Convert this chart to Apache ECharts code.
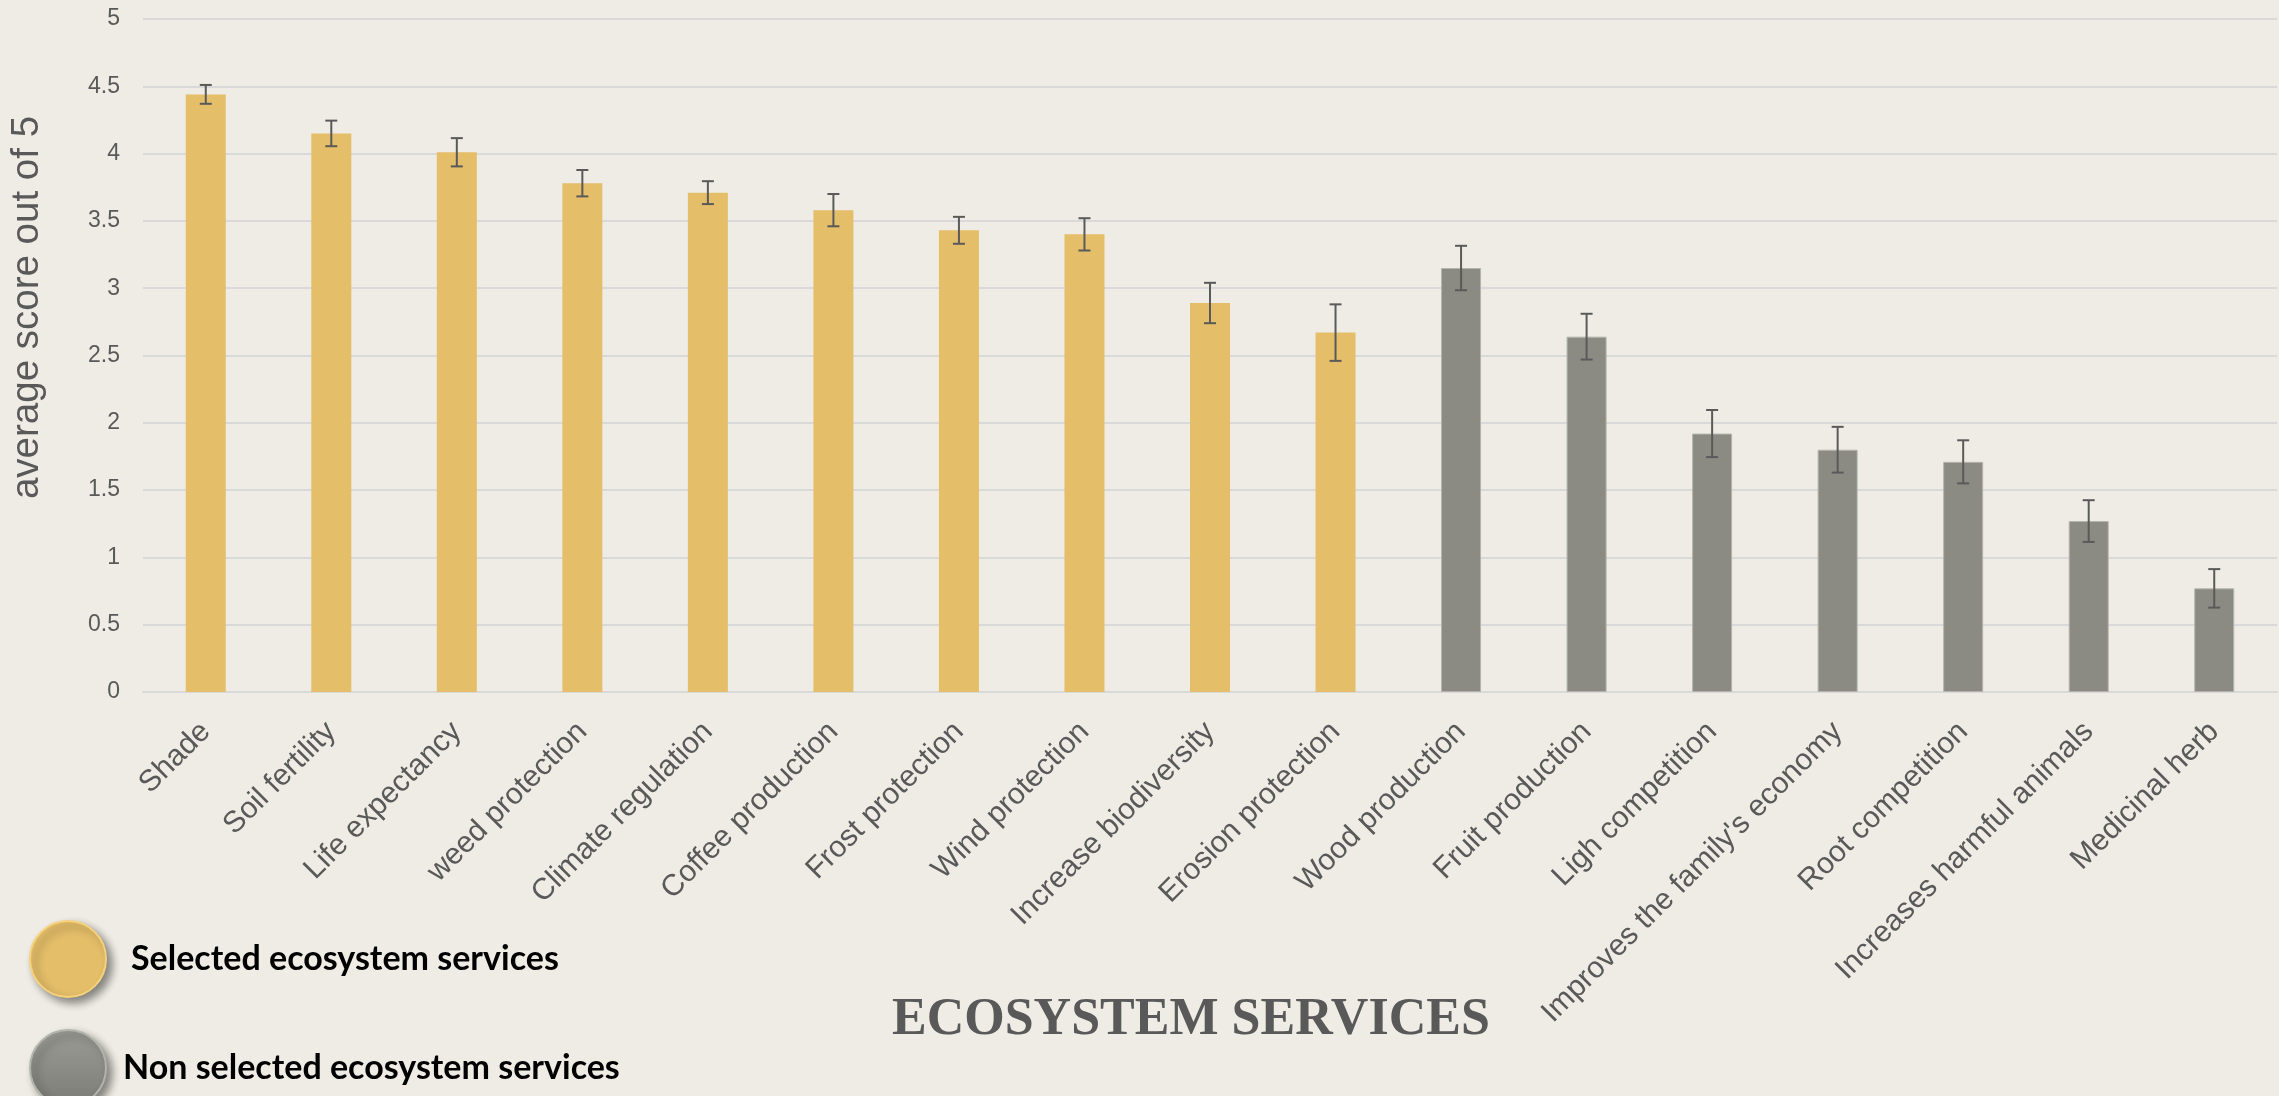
<!DOCTYPE html>
<html><head><meta charset="utf-8">
<script src="https://cdn.jsdelivr.net/npm/echarts@6/dist/echarts.min.js"></script>
<style>html,body{margin:0;padding:0;background:#EEECE4;} #c{width:2279px;height:1096px;}</style>
</head><body><div id="c"></div>
<script>
const categories = ['Shade','Soil fertility','Life expectancy','weed protection','Climate regulation','Coffee production','Frost protection','Wind protection','Increase biodiversity','Erosion protection','Wood production','Fruit production','Ligh competition',"Improves the family's economy",'Root competition','Increases harmful animals','Medicinal herb'];
const scores = [4.44, 4.15, 4.01, 3.78, 3.71, 3.58, 3.43, 3.40, 2.89, 2.67, 3.15, 2.64, 1.92, 1.80, 1.71, 1.27, 0.77];
const errors = [0.07, 0.095, 0.105, 0.098, 0.085, 0.12, 0.10, 0.12, 0.15, 0.21, 0.165, 0.17, 0.175, 0.17, 0.16, 0.155, 0.143];
const isSelected = [true, true, true, true, true, true, true, true, true, true, false, false, false, false, false, false, false];
const groupNames = ['Selected ecosystem services', 'Non selected ecosystem services'];
const yAxisTitle = 'average score out of 5';
const xAxisTitle = 'ECOSYSTEM SERVICES';

const chart = echarts.init(document.getElementById('c'));
const selData = scores.map((v, i) => isSelected[i] ? v : '-');
const nonData = scores.map((v, i) => isSelected[i] ? '-' : v);
const errData = scores.map((v, i) => [i, v - errors[i], v + errors[i]]);

const legendFont = { fontFamily: 'Lato, Liberation Sans', fontWeight: 'bold', fontSize: 34, color: '#000' };

chart.setOption({
  backgroundColor: '#EEECE4',
  animation: false,
  title: {
    text: xAxisTitle, left: 887, top: 990,
    textStyle: { fontFamily: 'Liberation Serif', fontWeight: 'bold', fontSize: 52, color: '#595959' }
  },
  legend: {
    orient: 'vertical', left: 24, top: 915, height: 300, itemWidth: 76, itemHeight: 76, itemGap: 31,
    icon: 'circle', selectedMode: false,
    textStyle: Object.assign({ padding: [0, 0, 0, 20] }, legendFont),
    data: [
      { name: groupNames[0], itemStyle: { color: '#E4BE69', borderColor: '#F6D27C', borderWidth: 2, shadowBlur: 8, shadowColor: 'rgba(0,0,0,0.45)', shadowOffsetX: 5, shadowOffsetY: 5 } },
      { name: groupNames[1], textStyle: Object.assign({ padding: [0, 0, 0, 12] }, legendFont), itemStyle: { color: { type: 'linear', x: 0, y: 0, x2: 0, y2: 1, colorStops: [{ offset: 0, color: '#9C9C96' }, { offset: 1, color: '#7C7C76' }] }, shadowBlur: 8, shadowColor: 'rgba(0,0,0,0.45)', shadowOffsetX: 5, shadowOffsetY: 5 } }
    ]
  },
  grid: { left: 137, right: 2, top: 19, bottom: 404 },
  xAxis: {
    type: 'category', data: categories,
    axisLine: { lineStyle: { color: '#D9D9D9', width: 2 } },
    axisTick: { show: false },
    axisLabel: { interval: 0, rotate: 45, fontFamily: 'Liberation Sans', fontSize: 30, color: '#595959', margin: 35 }
  },
  yAxis: {
    type: 'value', min: 0, max: 5, interval: 0.5,
    name: yAxisTitle, nameLocation: 'middle', nameGap: 96,
    nameTextStyle: { fontFamily: 'Liberation Sans', fontSize: 38.5, color: '#595959', padding: [0, 0, 0, 96] },
    axisLine: { show: false }, axisTick: { show: false },
    axisLabel: { fontFamily: 'Liberation Sans', fontSize: 23, color: '#595959', margin: 23 },
    splitLine: { lineStyle: { color: '#D9D9D9', width: 2 } }
  },
  series: [
    { name: groupNames[0], type: 'bar', data: selData, barWidth: 40, barGap: '-100%', itemStyle: { color: '#E4BE69' } },
    { name: groupNames[1], type: 'bar', data: nonData, barWidth: 40, barGap: '-100%', itemStyle: { color: '#8B8B84', borderColor: '#B4B4AE', borderWidth: 1 } },
    {
      type: 'custom', name: 'error', data: errData, encode: { x: 0, y: [1, 2] }, z: 5,
      renderItem: function (params, api) {
        const x = api.value(0);
        const lo = api.coord([x, api.value(1)]);
        const hi = api.coord([x, api.value(2)]);
        const hw = 6;
        const style = { stroke: '#5A5A5A', lineWidth: 2 };
        return { type: 'group', children: [
          { type: 'line', shape: { x1: lo[0], y1: lo[1], x2: hi[0], y2: hi[1] }, style: style },
          { type: 'line', shape: { x1: lo[0] - hw, y1: lo[1], x2: lo[0] + hw, y2: lo[1] }, style: style },
          { type: 'line', shape: { x1: hi[0] - hw, y1: hi[1], x2: hi[0] + hw, y2: hi[1] }, style: style }
        ] };
      }
    }
  ]
});
</script></body></html>
